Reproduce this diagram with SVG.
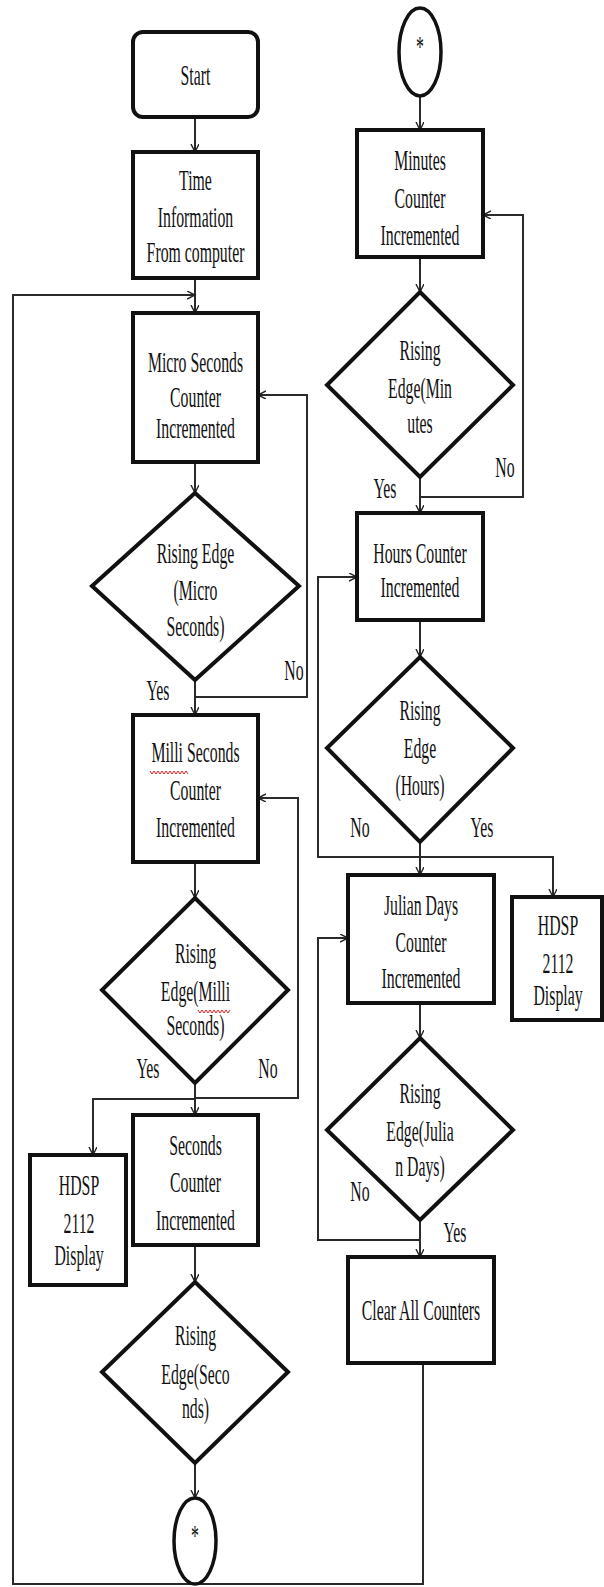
<svg xmlns="http://www.w3.org/2000/svg" width="604" height="1587" viewBox="0 0 604 1587">
<style>
.box{fill:#fff;stroke:#111;stroke-width:4}
.dia{fill:#fff;stroke:#111;stroke-width:4;stroke-linejoin:miter}
.term{fill:#fff;stroke:#111;stroke-width:3.5}
.c{fill:none;stroke:#2a2a2a;stroke-width:2}
.t{font-family:"Liberation Serif","Times New Roman",serif;font-size:15.8px;fill:#111;text-anchor:middle}
.sq{fill:none;stroke:#e02020;stroke-width:1}
</style>
<defs>
<marker id="ah" markerUnits="userSpaceOnUse" markerWidth="10" markerHeight="10" refX="8" refY="4" orient="auto">
<path d="M0,0 L8,4 L0,8" fill="none" stroke="#222" stroke-width="1.4"/>
</marker>
</defs>

<g id="connectors">
<path class="c" d="M195,117 V152" marker-end="url(#ah)"/>
<path class="c" d="M195,278 V313" marker-end="url(#ah)"/>
<path class="c" d="M423,1363 V1584 H13 V295 H195" marker-end="url(#ah)"/>
<path class="c" d="M195,462 V493" marker-end="url(#ah)"/>
<path class="c" d="M195,680 V715" marker-end="url(#ah)"/>
<path class="c" d="M195,697 H307 V395 H258" marker-end="url(#ah)"/>
<path class="c" d="M195,862 V898" marker-end="url(#ah)"/>
<path class="c" d="M195,1083 V1115" marker-end="url(#ah)"/>
<path class="c" d="M195,1098 H298 V798 H258" marker-end="url(#ah)"/>
<path class="c" d="M195,1099 H93 V1155" marker-end="url(#ah)"/>
<path class="c" d="M195,1245 V1282" marker-end="url(#ah)"/>
<path class="c" d="M195,1463 V1498" marker-end="url(#ah)"/>
<path class="c" d="M420,97 V130" marker-end="url(#ah)"/>
<path class="c" d="M420,257 V292" marker-end="url(#ah)"/>
<path class="c" d="M420,477 V513" marker-end="url(#ah)"/>
<path class="c" d="M420,497 H523 V215 H483" marker-end="url(#ah)"/>
<path class="c" d="M420,620 V657" marker-end="url(#ah)"/>
<path class="c" d="M420,842 V875" marker-end="url(#ah)"/>
<path class="c" d="M420,857 H318 V577 H357" marker-end="url(#ah)"/>
<path class="c" d="M420,857 H553 V897" marker-end="url(#ah)"/>
<path class="c" d="M420,1003 V1038" marker-end="url(#ah)"/>
<path class="c" d="M420,1220 V1257" marker-end="url(#ah)"/>
<path class="c" d="M420,1240 H318 V938 H348" marker-end="url(#ah)"/>
</g>

<g id="start">
<rect class="box" x="133" y="32" width="125" height="85" rx="10"/>
<text class="t" transform="translate(195.5 85) scale(1 1.9)">Start</text>
</g>

<g id="time-info">
<rect class="box" x="133" y="152" width="125" height="126"/>
<text class="t" transform="translate(195.5 190) scale(1 1.9)">Time</text>
<text class="t" transform="translate(195.5 227) scale(1 1.9)">Information</text>
<text class="t" transform="translate(195.5 262) scale(1 1.9)">From computer</text>
</g>

<g id="micro-counter">
<rect class="box" x="133" y="313" width="125" height="149"/>
<text class="t" transform="translate(195.5 372) scale(1 1.9)">Micro Seconds</text>
<text class="t" transform="translate(195.5 407) scale(1 1.9)">Counter</text>
<text class="t" transform="translate(195.5 438) scale(1 1.9)">Incremented</text>
</g>

<g id="micro-edge">
<polygon class="dia" points="195,493 299,586 195,680 92,586"/>
<text class="t" transform="translate(195.5 563) scale(1 1.9)">Rising Edge</text>
<text class="t" transform="translate(195.5 600) scale(1 1.9)">(Micro</text>
<text class="t" transform="translate(195.5 636) scale(1 1.9)">Seconds)</text>
<text class="t" transform="translate(294 680) scale(1 1.9)">No</text>
<text class="t" transform="translate(158 700) scale(1 1.9)">Yes</text>
</g>

<g id="milli-counter">
<rect class="box" x="133" y="715" width="125" height="147"/>
<text class="t" transform="translate(195.5 762) scale(1 1.9)">Milli Seconds</text>
<polyline class="sq" points="150,771 152,774 154,771 156,774 158,771 160,774 162,771 164,774 166,771 168,774 170,771 172,774 174,771 176,774 178,771 180,774 182,771 184,774 186,771 188,774"/>
<text class="t" transform="translate(195.5 800) scale(1 1.9)">Counter</text>
<text class="t" transform="translate(195.5 837) scale(1 1.9)">Incremented</text>
</g>

<g id="milli-edge">
<polygon class="dia" points="195,898 288,990 195,1083 102,990"/>
<text class="t" transform="translate(195.5 963) scale(1 1.9)">Rising</text>
<text class="t" transform="translate(195.5 1001) scale(1 1.9)">Edge(Milli</text>
<polyline class="sq" points="198,1010 200,1013 202,1010 204,1013 206,1010 208,1013 210,1010 212,1013 214,1010 216,1013 218,1010 220,1013 222,1010 224,1013 226,1010 228,1013 230,1010"/>
<text class="t" transform="translate(195.5 1035) scale(1 1.9)">Seconds)</text>
<text class="t" transform="translate(148 1078) scale(1 1.9)">Yes</text>
<text class="t" transform="translate(268 1078) scale(1 1.9)">No</text>
</g>

<g id="hdsp-left">
<rect class="box" x="30" y="1155" width="96" height="130"/>
<text class="t" transform="translate(79 1195) scale(1 1.9)">HDSP</text>
<text class="t" transform="translate(79 1233) scale(1 1.9)">2112</text>
<text class="t" transform="translate(79 1265) scale(1 1.9)">Display</text>
</g>

<g id="seconds-counter">
<rect class="box" x="133" y="1115" width="125" height="130"/>
<text class="t" transform="translate(195.5 1155) scale(1 1.9)">Seconds</text>
<text class="t" transform="translate(195.5 1192) scale(1 1.9)">Counter</text>
<text class="t" transform="translate(195.5 1230) scale(1 1.9)">Incremented</text>
</g>

<g id="seconds-edge">
<polygon class="dia" points="195,1282 288,1372 195,1463 102,1372"/>
<text class="t" transform="translate(195.5 1345) scale(1 1.9)">Rising</text>
<text class="t" transform="translate(195.5 1384) scale(1 1.9)">Edge(Seco</text>
<text class="t" transform="translate(195.5 1418) scale(1 1.9)">nds)</text>
</g>

<g id="connector-bottom">
<ellipse class="term" cx="195" cy="1541" rx="21" ry="43"/>
<text class="t" transform="translate(195 1545) scale(1 1.9)">*</text>
</g>

<g id="connector-top">
<ellipse class="term" cx="420" cy="52" rx="21" ry="44"/>
<text class="t" transform="translate(420 56) scale(1 1.9)">*</text>
</g>

<g id="minutes-counter">
<rect class="box" x="357" y="130" width="126" height="127"/>
<text class="t" transform="translate(420 170) scale(1 1.9)">Minutes</text>
<text class="t" transform="translate(420 208) scale(1 1.9)">Counter</text>
<text class="t" transform="translate(420 245) scale(1 1.9)">Incremented</text>
</g>

<g id="minutes-edge">
<polygon class="dia" points="420,292 513,385 420,477 327,385"/>
<text class="t" transform="translate(420 360) scale(1 1.9)">Rising</text>
<text class="t" transform="translate(420 398) scale(1 1.9)">Edge(Min</text>
<text class="t" transform="translate(420 433) scale(1 1.9)">utes</text>
<text class="t" transform="translate(505 477) scale(1 1.9)">No</text>
<text class="t" transform="translate(385 498) scale(1 1.9)">Yes</text>
</g>

<g id="hours-counter">
<rect class="box" x="357" y="513" width="126" height="107"/>
<text class="t" transform="translate(420 563) scale(1 1.9)">Hours Counter</text>
<text class="t" transform="translate(420 597) scale(1 1.9)">Incremented</text>
</g>

<g id="hours-edge">
<polygon class="dia" points="420,657 513,748 420,842 327,748"/>
<text class="t" transform="translate(420 720) scale(1 1.9)">Rising</text>
<text class="t" transform="translate(420 758) scale(1 1.9)">Edge</text>
<text class="t" transform="translate(420 795) scale(1 1.9)">(Hours)</text>
<text class="t" transform="translate(360 837) scale(1 1.9)">No</text>
<text class="t" transform="translate(482 837) scale(1 1.9)">Yes</text>
</g>

<g id="julian-counter">
<rect class="box" x="348" y="875" width="146" height="128"/>
<text class="t" transform="translate(421 915) scale(1 1.9)">Julian Days</text>
<text class="t" transform="translate(421 952) scale(1 1.9)">Counter</text>
<text class="t" transform="translate(421 988) scale(1 1.9)">Incremented</text>
</g>

<g id="hdsp-right">
<rect class="box" x="512" y="897" width="90" height="123"/>
<text class="t" transform="translate(558 935) scale(1 1.9)">HDSP</text>
<text class="t" transform="translate(558 973) scale(1 1.9)">2112</text>
<text class="t" transform="translate(558 1005) scale(1 1.9)">Display</text>
</g>

<g id="julian-edge">
<polygon class="dia" points="420,1038 513,1130 420,1220 327,1130"/>
<text class="t" transform="translate(420 1103) scale(1 1.9)">Rising</text>
<text class="t" transform="translate(420 1141) scale(1 1.9)">Edge(Julia</text>
<text class="t" transform="translate(420 1176) scale(1 1.9)">n Days)</text>
<text class="t" transform="translate(360 1201) scale(1 1.9)">No</text>
<text class="t" transform="translate(455 1242) scale(1 1.9)">Yes</text>
</g>

<g id="clear-counters">
<rect class="box" x="348" y="1257" width="146" height="106"/>
<text class="t" transform="translate(421 1320) scale(1 1.9)">Clear All Counters</text>
</g>
</svg>
